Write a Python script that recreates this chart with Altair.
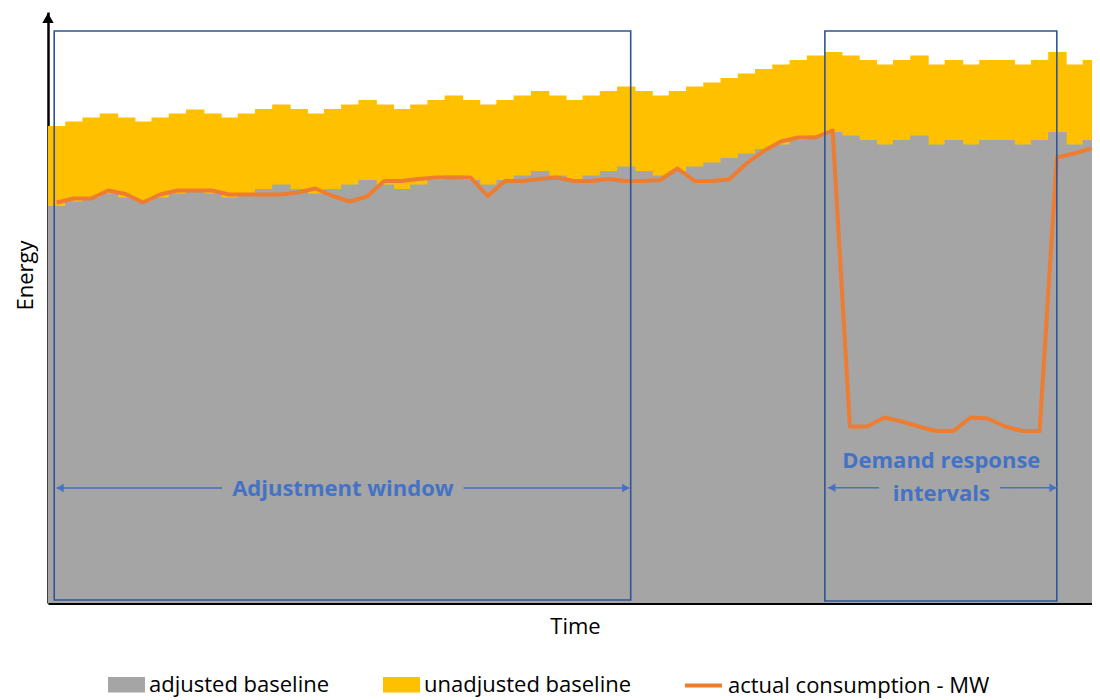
import altair as alt
import pandas as pd

# ---------------- data ----------------
interval = list(range(61))

unadjusted = [95.4, 96.3, 97.1, 97.9, 97.1, 96.3, 97.1, 97.9, 98.7, 97.9,
              97.1, 97.9, 98.8, 99.7, 98.8, 97.9, 98.8, 99.7, 100.6, 99.7,
              98.8, 99.7, 100.6, 101.5, 100.6, 99.7, 100.6, 101.5, 102.4, 101.5,
              100.6, 101.5, 102.4, 103.3, 102.4, 101.5, 102.4, 103.3, 104.1, 105.0,
              105.9, 106.8, 107.7, 108.6, 109.5, 110.2, 109.5, 108.6, 107.7, 108.6,
              109.5, 107.7, 108.6, 107.7, 108.6, 108.6, 107.7, 108.6, 110.2, 107.7, 108.6]

adjusted = [79.4, 80.3, 81.1, 81.9, 81.1, 80.3, 81.1, 81.9, 82.7, 81.9,
            81.1, 81.9, 82.8, 83.7, 82.8, 81.9, 82.8, 83.7, 84.6, 83.7,
            82.8, 83.7, 84.6, 85.5, 84.6, 83.7, 84.6, 85.5, 86.4, 85.5,
            84.6, 85.5, 86.4, 87.3, 86.4, 85.5, 86.4, 87.3, 88.1, 89.0,
            89.9, 90.8, 91.7, 92.6, 93.5, 94.2, 93.5, 92.6, 91.7, 92.6,
            93.5, 91.7, 92.6, 91.7, 92.6, 92.6, 91.7, 92.6, 94.2, 91.7, 92.6]

actual = [80.1, 80.9, 80.9, 82.5, 81.8, 80.1, 81.7, 82.5, 82.5, 82.5,
          81.7, 81.7, 81.7, 81.7, 82.1, 82.9, 81.4, 80.3, 81.3, 84.4,
          84.4, 84.8, 85.1, 85.1, 85.1, 81.4, 84.4, 84.4, 84.8, 85.1,
          84.4, 84.4, 84.8, 84.4, 84.4, 84.6, 86.9, 84.4, 84.4, 84.7,
          87.9, 90.4, 92.3, 93.1, 93.1, 94.5, 35.3, 35.3, 37.1, 36.3,
          35.3, 34.4, 34.4, 37.1, 36.9, 35.3, 34.4, 34.4, 89.1, 89.9, 90.9]

series_names = ["adjusted baseline", "unadjusted baseline", "actual consumption - MW"]

# annotation boxes (adjustment window, demand response intervals)
box_x0 = [-0.14, 44.55]
box_x1 = [33.29, 58.0]
box_y0 = [0.6, 0.4]
box_y1 = [114.4, 114.4]

# arrow shafts (interrupted by the labels)
shaft_x0 = [0.0, 23.6, 44.72, 54.7]
shaft_x1 = [9.6, 33.2, 47.7, 58.0]
shaft_y = [23.0, 23.0, 23.06, 23.06]

# arrow heads
head_x = [0.2, 33.0, 44.95, 57.78]
head_y = [23.0, 23.0, 23.06, 23.06]
head_dir = ["left", "right", "left", "right"]

# labels
label_text = ["Adjustment window", "Demand response", "intervals"]
label_x = [16.6, 51.3, 51.3]
label_y = [21.4, 27.0, 20.4]

y_max = 118.2
y_arrow = 117.0

# ---------------- colours / styles ----------------
GRAY = "#A5A5A5"
YELLOW = "#FFC000"
ORANGE = "#ED7D31"
BOX = "#2F5597"
BLUE = "#4472C4"
FONT = "Open Sans"

df = pd.DataFrame({"t": interval, "unadjusted": unadjusted,
                   "adjusted": adjusted, "actual": actual})
boxes = pd.DataFrame({"x0": box_x0, "x1": box_x1, "y0": box_y0, "y1": box_y1})
shafts = pd.DataFrame({"x0": shaft_x0, "x1": shaft_x1, "y": shaft_y})
heads = pd.DataFrame({"x": head_x, "y": head_y, "dir": head_dir})
labels = pd.DataFrame({"text": label_text, "x": label_x, "y": label_y})

xscale = alt.Scale(domain=[-0.5, 60.04], nice=False, zero=False)
yscale = alt.Scale(domain=[0, y_max], nice=False, zero=True)


def X(field):
    return alt.X(field, type="quantitative", scale=xscale, title="Time")


def Y(field):
    return alt.Y(field, type="quantitative", scale=yscale, title="Energy")


fill_scale = alt.Scale(domain=series_names[:2], range=[GRAY, YELLOW])
stroke_scale = alt.Scale(domain=series_names[2:], range=[ORANGE])

fill_legend = alt.Legend(
    title=None, orient="none", legendX=60, legendY=654, direction="horizontal",
    symbolType="M-1,-0.42H1V0.42H-1Z", symbolSize=1369, symbolStrokeWidth=0,
    symbolOpacity=1, labelFontSize=22, labelFont=FONT, labelColor="black",
    labelOffset=4, labelLimit=0, columnPadding=53, padding=0)

stroke_legend = alt.Legend(
    title=None, orient="none", legendX=635, legendY=653, direction="horizontal",
    symbolType="stroke", symbolSize=1369, symbolStrokeWidth=4, symbolOpacity=1,
    labelFontSize=22, labelFont=FONT, labelColor="black", labelOffset=4,
    labelLimit=0, padding=0)

base = alt.Chart(df).transform_calculate(t0="datum.t - 0.5", t1="datum.t + 0.57")

yellow = base.transform_calculate(series="'unadjusted baseline'").mark_rect(clip=True).encode(
    x=X("t0"), x2="t1", y=Y("unadjusted"), y2=alt.datum(0),
    fill=alt.Fill("series:N", scale=fill_scale, legend=fill_legend))

gray = base.transform_calculate(series="'adjusted baseline'").mark_rect(clip=True).encode(
    x=X("t0"), x2="t1", y=Y("adjusted"), y2=alt.datum(0),
    fill=alt.Fill("series:N", scale=fill_scale, legend=fill_legend))

line = base.transform_calculate(series="'actual consumption - MW'").mark_line(
    strokeWidth=4, strokeJoin="round", clip=True).encode(
    x=X("t"), y=Y("actual"),
    stroke=alt.Stroke("series:N", scale=stroke_scale, legend=stroke_legend))

box_layer = alt.Chart(boxes).mark_rect(filled=False, stroke=BOX, strokeWidth=1.6).encode(
    x=X("x0"), x2="x1", y=Y("y0"), y2="y1")

shaft_layer = alt.Chart(shafts).mark_rule(color=BLUE, strokeWidth=1.5).encode(
    x=X("x0"), x2="x1", y=Y("y"))

head_layer = alt.Chart(heads).mark_point(filled=True, color=BLUE, opacity=1, size=70).encode(
    x=X("x"), y=Y("y"),
    shape=alt.Shape("dir:N", scale=alt.Scale(domain=["left", "right"],
                                             range=["triangle-left", "triangle-right"]),
                    legend=None))

text_layer = alt.Chart(labels).mark_text(
    font=FONT, fontSize=22, fontWeight="bold", color=BLUE, align="center",
    baseline="alphabetic").encode(x=X("x"), y=Y("y"), text="text:N")

yarrow = alt.Chart(df).transform_aggregate(n="count()").mark_point(
    shape="triangle-up", filled=True, color="black", opacity=1, size=130).encode(
    x=alt.datum(-0.5, scale=xscale), y=alt.datum(y_arrow))

chart = alt.layer(
    yellow, gray, line, box_layer, shaft_layer, head_layer, text_layer, yarrow
).properties(
    width=1044, height=591,
    autosize=alt.AutoSizeParams(type="none"),
    padding={"left": 40, "top": 4, "right": 0, "bottom": 97},
    background="white",
).resolve_scale(fill="shared", stroke="independent").configure_view(
    stroke=None
).configure_axisX(
    labels=False, ticks=False, grid=False, domainColor="black", domainWidth=3,
    titleFont=FONT, titleFontSize=22, titleFontWeight="normal", titleColor="black",
    titleX=527, titleY=13, titleBaseline="top", zindex=1
).configure_axisY(
    labels=False, ticks=False, grid=False, domainColor="black", domainWidth=2.5,
    titleFont=FONT, titleFontSize=22, titleFontWeight="normal", titleColor="black",
    titleX=-11, titleY=263, titleBaseline="bottom", zindex=1
)

chart.save("out.html", embed_options={"renderer": "svg", "actions": False})
